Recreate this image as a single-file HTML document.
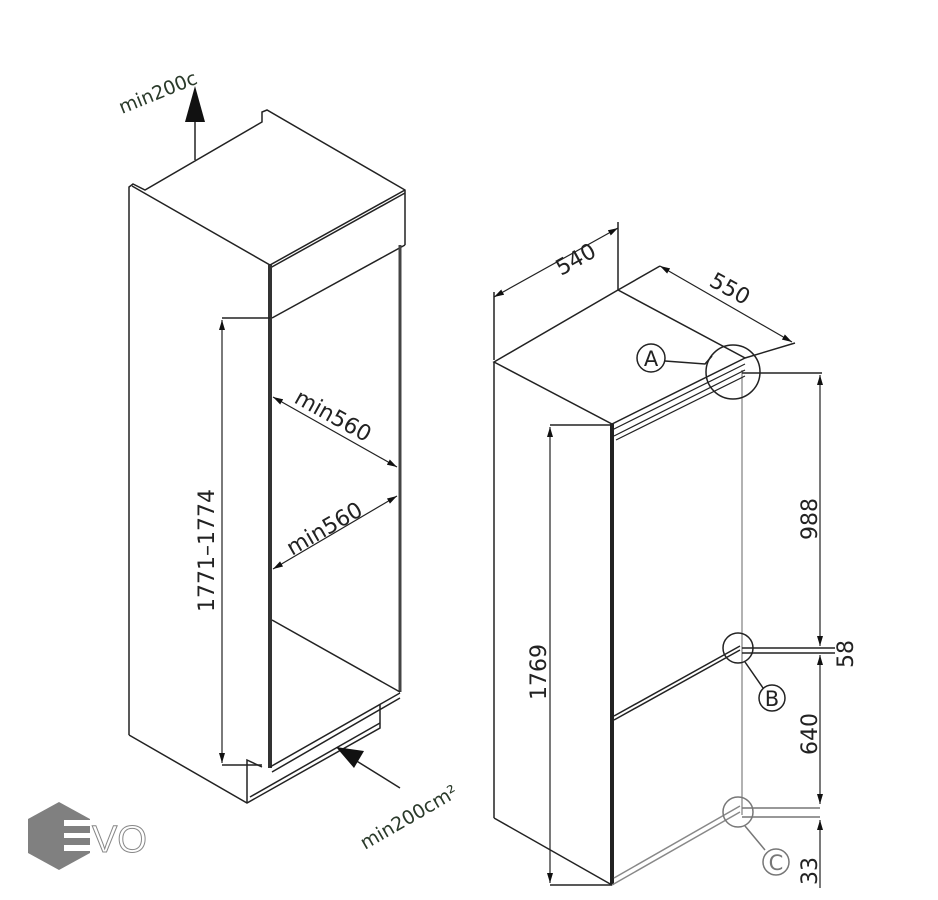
<!DOCTYPE html>
<html><head><meta charset="utf-8"><style>
html,body{margin:0;padding:0;background:#fff;width:938px;height:900px;overflow:hidden}
svg text{font-family:"DejaVu Sans","Liberation Sans",sans-serif;fill:#222}
</style></head><body>
<svg width="938" height="900" viewBox="0 0 938 900" xmlns="http://www.w3.org/2000/svg">
<defs>
<marker id="ar" markerWidth="10" markerHeight="6" refX="10" refY="3" orient="auto-start-reverse" markerUnits="userSpaceOnUse"><path d="M0,0 L10,3 L0,6 Z" fill="#111"/></marker>
</defs>
<g stroke="#222" stroke-width="1.5" fill="none">
<path d="M129,735 L129,187 L133,184 L145,190 L262,122 L262,112 L267,110 L405,190 L405,245"/>
<path d="M132,186 L270,265 L405,190"/>
<path d="M270,268 L405,193"/>
<path d="M272,318 L405,245"/>
<line x1="270" y1="265" x2="270" y2="768" stroke-width="4" stroke="#333"/>
<line x1="400" y1="245" x2="400" y2="692" stroke-width="3" stroke="#444"/>
<path d="M272,620 L400,692"/>
<path d="M270,767 L400,693 M272,772 L400,698" />
<path d="M129,735 L247,803 L380,728 L380,705"/>
<path d="M250,797 L380,723"/>
<path d="M247,803 L247,760 L262,767"/>
<path d="M222,318 L270,318 M222,765 L262,765"/>
<line x1="222" y1="320" x2="222" y2="763" stroke-width="1.2" marker-start="url(#ar)" marker-end="url(#ar)"/>
<line x1="273" y1="397" x2="397" y2="467" stroke-width="1.2" marker-start="url(#ar)" marker-end="url(#ar)"/>
<line x1="273" y1="569" x2="397" y2="496" stroke-width="1.2" marker-start="url(#ar)" marker-end="url(#ar)"/>
<line x1="195" y1="160" x2="195" y2="110"/>
<line x1="400" y1="788" x2="355" y2="760"/>
</g>
<path d="M195,86 L185,122 L205,122 Z" fill="#111"/>
<path d="M336,747 L364,751 L354,768 Z" fill="#111"/>
<text font-size="22" transform="translate(214,612) rotate(-90)">1771–1774</text>
<text font-size="22" transform="translate(293,402) rotate(29)">min560</text>
<text font-size="22" transform="translate(292,556) rotate(-30)">min560</text>
<text font-size="19" transform="translate(122,114) rotate(-22)" style="fill:#2a3a2a">min200c</text>
<text font-size="19" transform="translate(365,850) rotate(-30)" style="fill:#2a3a2a">min200cm²</text>

<g stroke="#222" stroke-width="1.5" fill="none">
<path d="M494,362 L618,290 L745,358 L612,424 Z"/>
<line x1="494" y1="362" x2="494" y2="818"/>
<path d="M494,818 L612,885"/>
<line x1="612" y1="424" x2="612" y2="885" stroke-width="4"/>
<path d="M742,370 L742,815" stroke="#999"/>
<path d="M612,885 L740,812 M614,878 L740,806" stroke="#888"/>
<path d="M614,716 L740,646 M614,720 L740,650"/>
<path d="M612,430 L745,364 M614,436 L745,370 M616,440 L745,376" stroke-width="1.2"/>
<path d="M494,360 L494,292 M618,290 L618,222"/>
<line x1="494" y1="297" x2="618" y2="228" stroke-width="1.2" marker-start="url(#ar)" marker-end="url(#ar)"/>
<path d="M618,290 L660,266 M745,358 L795,343"/>
<line x1="660" y1="266" x2="792" y2="342" stroke-width="1.2" marker-start="url(#ar)" marker-end="url(#ar)"/>
<circle cx="651" cy="358" r="14"/>
<path d="M665,361 L705,364 L712,356"/>
<circle cx="733" cy="372" r="27"/>
<path d="M742,373 L822,373"/>
<line x1="820" y1="375" x2="820" y2="646" stroke-width="1.2" marker-start="url(#ar)" marker-end="url(#ar)"/>
<path d="M742,648 L835,648 M742,653 L835,653"/>
<line x1="820" y1="655" x2="820" y2="804" stroke-width="1.2" marker-start="url(#ar)" marker-end="url(#ar)"/>
<path d="M742,808 L820,808 M742,817 L820,817" stroke="#777"/>
<line x1="820" y1="820" x2="820" y2="888" stroke-width="1.2" marker-start="url(#ar)"/>
<circle cx="738" cy="648" r="15"/>
<line x1="745" y1="662" x2="763" y2="688"/>
<circle cx="772" cy="698" r="13"/>
<circle cx="738" cy="812" r="15" stroke="#777"/>
<line x1="745" y1="826" x2="765" y2="850" stroke="#777"/>
<circle cx="776" cy="862" r="13" stroke="#777"/>
<path d="M550,425 L612,425 M550,885 L612,885"/>
<line x1="550" y1="427" x2="550" y2="883" stroke-width="1.2" marker-start="url(#ar)" marker-end="url(#ar)"/>
</g>
<text font-size="21" text-anchor="middle" x="651" y="366">A</text>
<text font-size="21" text-anchor="middle" x="772" y="706">B</text>
<text font-size="21" text-anchor="middle" x="776" y="870" style="fill:#777">C</text>
<text font-size="22" transform="translate(561,276) rotate(-29)">540</text>
<text font-size="22" transform="translate(708,285) rotate(29)">550</text>
<text font-size="22" transform="translate(817,540) rotate(-90)">988</text>
<text font-size="22" transform="translate(853,668) rotate(-90)">58</text>
<text font-size="22" transform="translate(817,755) rotate(-90)">640</text>
<text font-size="22" transform="translate(817,885) rotate(-90)">33</text>
<text font-size="22" transform="translate(546,700) rotate(-90)">1769</text>

<polygon points="59,802 90,819 90,853 59,870 28,853 28,819" fill="#808080"/>
<rect x="64" y="820" width="28" height="6" fill="#fff"/>
<rect x="64" y="833" width="28" height="5" fill="#fff"/>
<rect x="64" y="845" width="28" height="6" fill="#fff"/>
<text x="92" y="852" font-size="38" style="fill:#fff;stroke:#888;stroke-width:1;font-family:'Liberation Sans',sans-serif">VO</text>
</svg>
</body></html>
